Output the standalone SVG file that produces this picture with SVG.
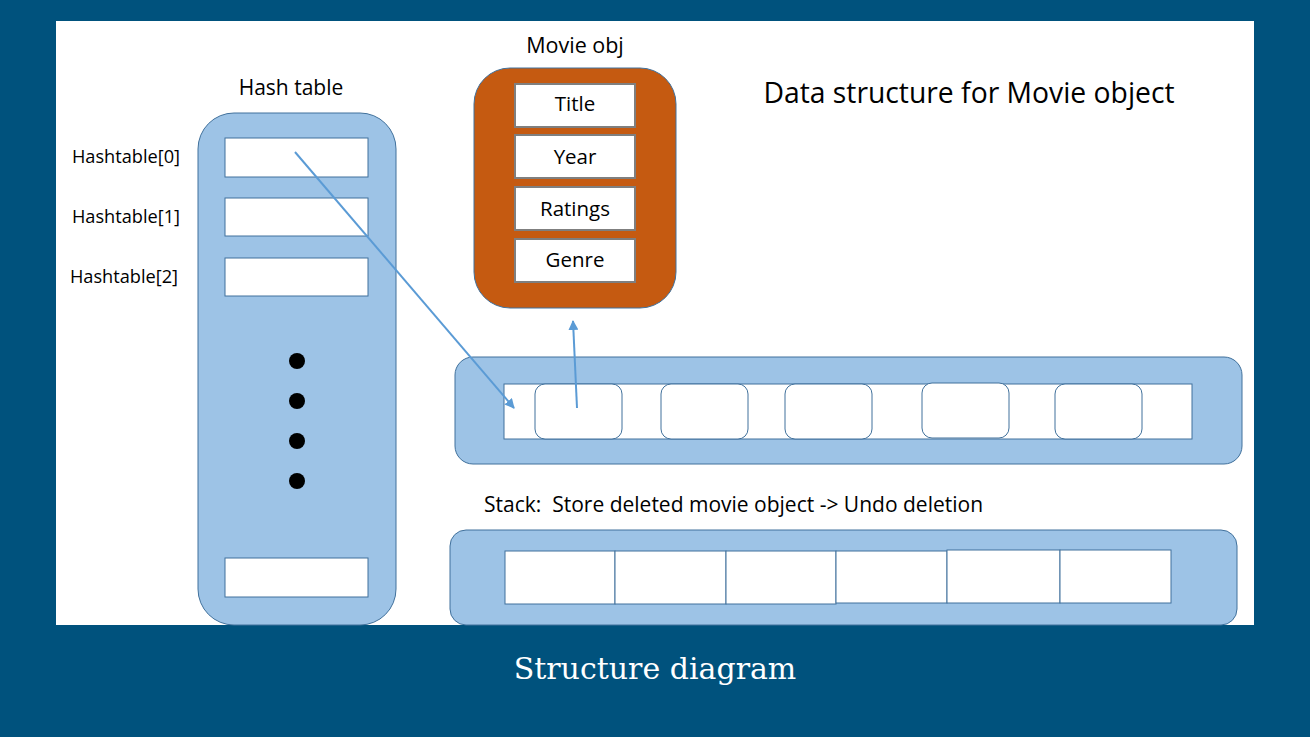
<svg xmlns="http://www.w3.org/2000/svg" width="1310" height="737" viewBox="0 0 1310 737">
<style>
.lbl{font-family:"Open Sans","Liberation Sans",sans-serif;fill:#000}
.cont{fill:#9dc3e6;stroke:#41719c;stroke-width:1}
.cell{fill:#fff;stroke:#41719c;stroke-width:1}
.field{fill:#fff;stroke:#7f7f7f;stroke-width:2}
.conn{stroke:#5b9bd5;stroke-width:2;fill:none}
</style>
<defs>
<marker id="ah" viewBox="0 0 10 10" refX="9" refY="5" markerWidth="5" markerHeight="5" orient="auto" markerUnits="strokeWidth">
<path d="M0,0 L10,5 L0,10 z" fill="#5b9bd5"/>
</marker>
</defs>
<rect x="0" y="0" width="1310" height="737" fill="#00527d"/>
<rect x="56" y="21" width="1198" height="604" fill="#fff"/>

<g id="hashtable">
<text class="lbl" x="291" y="95" font-size="21" text-anchor="middle">Hash table</text>
<rect class="cont" x="198" y="113" width="198" height="512" rx="36"/>
<rect class="cell" x="225" y="138" width="143" height="39"/>
<rect class="cell" x="225" y="198" width="143" height="38"/>
<rect class="cell" x="225" y="258" width="143" height="38"/>
<rect class="cell" x="225" y="558" width="143" height="39"/>
<circle cx="297" cy="361" r="8" fill="#000"/>
<circle cx="297" cy="401" r="8" fill="#000"/>
<circle cx="297" cy="441" r="8" fill="#000"/>
<circle cx="297" cy="481" r="8" fill="#000"/>
<text class="lbl" x="126" y="163" font-size="18.2" text-anchor="middle">Hashtable[0]</text>
<text class="lbl" x="126" y="223" font-size="18.2" text-anchor="middle">Hashtable[1]</text>
<text class="lbl" x="124" y="283" font-size="18.2" text-anchor="middle">Hashtable[2]</text>
</g>

<g id="movieobj">
<text class="lbl" x="575" y="53" font-size="21.5" text-anchor="middle">Movie obj</text>
<rect x="474" y="68" width="202" height="240" rx="36" fill="#c55a11" stroke="#41719c" stroke-width="1"/>
<rect class="field" x="515" y="84" width="120" height="43"/>
<rect class="field" x="515" y="135" width="120" height="43"/>
<rect class="field" x="515" y="187" width="120" height="43"/>
<rect class="field" x="515" y="239" width="120" height="43"/>
<text class="lbl" x="575" y="111" font-size="20.5" text-anchor="middle">Title</text>
<text class="lbl" x="575" y="164" font-size="20.5" text-anchor="middle">Year</text>
<text class="lbl" x="575" y="216" font-size="20.5" text-anchor="middle">Ratings</text>
<text class="lbl" x="575" y="267" font-size="20.5" text-anchor="middle">Genre</text>
</g>

<g id="title">
<text class="lbl" x="969" y="103" font-size="28.3" text-anchor="middle">Data structure for Movie object</text>
</g>

<g id="list">
<rect class="cont" x="455" y="357" width="787" height="107" rx="18"/>
<rect class="cell" x="504" y="384" width="688" height="55"/>
<rect class="cell" x="535" y="384" width="87" height="55" rx="10"/>
<rect class="cell" x="661" y="384" width="87" height="55" rx="10"/>
<rect class="cell" x="785" y="384" width="87" height="55" rx="10"/>
<rect class="cell" x="922" y="383" width="87" height="55" rx="10"/>
<rect class="cell" x="1055" y="384" width="87" height="55" rx="10"/>
</g>

<g id="stack">
<text class="lbl" x="484" y="512" font-size="21" xml:space="preserve">Stack:  Store deleted movie object -&gt; Undo deletion</text>
<rect class="cont" x="450" y="530" width="787" height="95" rx="16"/>
<rect class="cell" x="505" y="551" width="110" height="53"/>
<rect class="cell" x="615" y="551" width="111" height="53"/>
<rect class="cell" x="726" y="551" width="110" height="53"/>
<rect class="cell" x="836" y="551" width="111" height="52"/>
<rect class="cell" x="947" y="550" width="113" height="53"/>
<rect class="cell" x="1060" y="550" width="111" height="53"/>
</g>

<g id="connectors">
<line class="conn" x1="295" y1="152" x2="514" y2="408" marker-end="url(#ah)"/>
<line class="conn" x1="577" y1="408" x2="573" y2="321" marker-end="url(#ah)"/>
</g>

<g id="caption">
<text x="655" y="679" font-family="DejaVu Serif,serif" font-size="30" fill="#fff" text-anchor="middle">Structure diagram</text>
</g>
</svg>
